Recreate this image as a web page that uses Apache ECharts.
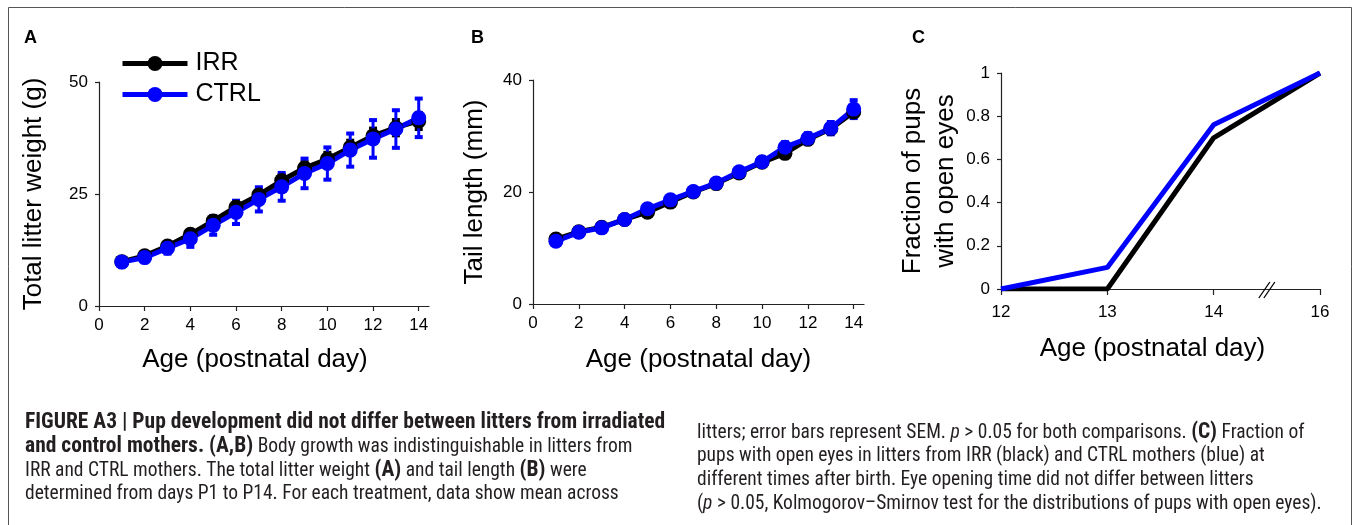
<!DOCTYPE html>
<html>
<head>
<meta charset="utf-8">
<script src="https://cdn.jsdelivr.net/npm/echarts@6/dist/echarts.min.js"></script>
<style>
html,body{margin:0;padding:0;background:#fff;}
#chart{width:1356px;height:525px;}
</style>
</head>
<body>
<div id="chart"></div>
<script>
// ---------- data ----------
const days = [1, 2, 3, 4, 5, 6, 7, 8, 9, 10, 11, 12, 13, 14];
const weightIRR = [9.9, 11.2, 13.4, 16.0, 19.0, 22.1, 24.8, 28.0, 30.8, 32.8, 35.4, 38.0, 39.8, 41.3];
const weightIRRErr = [0.3, 0.4, 0.6, 0.8, 0.9, 1.0, 1.1, 1.2, 1.3, 1.4, 1.5, 1.6, 1.7, 1.8];
const weightCTRL = [9.8, 10.8, 12.9, 15.0, 18.0, 20.9, 23.8, 26.6, 29.6, 31.8, 34.8, 37.3, 39.5, 42.0];
const weightCTRLErr = [0.4, 0.6, 1.2, 1.8, 2.1, 2.6, 2.7, 3.1, 3.3, 3.6, 3.7, 4.2, 4.2, 4.3];
const tailIRR = [11.6, 12.9, 13.7, 15.1, 16.4, 18.2, 20.0, 21.5, 23.4, 25.3, 26.9, 29.4, 31.3, 34.3];
const tailIRRErr = [0.2, 0.2, 0.2, 0.3, 0.3, 0.3, 0.3, 0.4, 0.4, 0.4, 0.5, 0.5, 0.6, 0.8];
const tailCTRL = [11.2, 12.8, 13.6, 15.1, 17.0, 18.6, 20.1, 21.6, 23.6, 25.4, 28.0, 29.6, 31.4, 34.8];
const tailCTRLErr = [0.3, 0.3, 0.4, 0.4, 0.5, 0.5, 0.5, 0.5, 0.6, 0.6, 0.9, 0.9, 1.1, 1.6];
const eyeDayLabels = ['12', '13', '14', '16'];
const eyeIRR = [0, 0, 0.70, 1];
const eyeCTRL = [0, 0.10, 0.76, 1];
const eyeBreakAt = [2.5];
const dayTicks = [0, 2, 4, 6, 8, 10, 12, 14];

const captionLeft = [
  '{b|FIGURE A3 | Pup development did not differ between litters from irradiated}',
  '{b|and control mothers. (A,B)} Body growth was indistinguishable in litters from',
  'IRR and CTRL mothers. The total litter weight {b|(A)} and tail length {b|(B)} were',
  'determined from days P1 to P14. For each treatment, data show mean across'
];
const captionRight = [
  'litters; error bars represent SEM. {i|p} > 0.05 for both comparisons. {b|(C)} Fraction of',
  'pups with open eyes in litters from IRR (black) and CTRL mothers (blue) at',
  'different times after birth. Eye opening time did not differ between litters',
  '({i|p} > 0.05, Kolmogorov\u2013Smirnov test for the distributions of pups with open eyes).'
];

// ---------- styling ----------
const FONT = '"Liberation Sans", Arial, sans-serif';
const CAPFONT = '"Liberation Sans Narrow", "Arial Narrow", "Roboto Condensed", "Liberation Sans", sans-serif';
const BLACK = '#000000';
const BLUE = '#0000ff';
const AXIS = '#222222';

function pairs(xs, ys) { return xs.map((x, i) => [x, ys[i]]); }
function triples(xs, ys, es) { return xs.map((x, i) => [x, ys[i], es[i]]); }

function errSeries(gi, color, xs, ys, es) {
  return {
    type: 'custom', xAxisIndex: gi, yAxisIndex: gi, silent: true,
    data: triples(xs, ys, es),
    encode: { x: 0, y: 1 },
    renderItem: function (params, api) {
      const x = api.value(0), y = api.value(1), e = api.value(2);
      const t = api.coord([x, y + e]);
      const b = api.coord([x, y - e]);
      const hw = 4;
      return {
        type: 'group',
        children: [
          { type: 'line', shape: { x1: t[0], y1: t[1], x2: b[0], y2: b[1] }, style: { stroke: color, lineWidth: 3 } },
          { type: 'line', shape: { x1: t[0] - hw, y1: t[1], x2: t[0] + hw, y2: t[1] }, style: { stroke: color, lineWidth: 4 } },
          { type: 'line', shape: { x1: b[0] - hw, y1: b[1], x2: b[0] + hw, y2: b[1] }, style: { stroke: color, lineWidth: 4 } }
        ]
      };
    }
  };
}

function lineSeries(gi, name, color, data, withSymbol) {
  return {
    type: 'line', name: name, xAxisIndex: gi, yAxisIndex: gi,
    data: data,
    symbol: withSymbol ? 'circle' : 'none',
    symbolSize: 15,
    showSymbol: withSymbol,
    itemStyle: { color: color },
    lineStyle: { color: color, width: 5 },
    emphasis: { disabled: true }
  };
}

function valueXAxis(gi, max, name, nameGap, namePad) {
  return {
    type: 'value', gridIndex: gi, min: 0, max: max, interval: 2,
    name: name, nameLocation: 'middle', nameGap: nameGap,
    nameTextStyle: { fontSize: 26, color: '#000', fontFamily: FONT, padding: namePad },
    axisLine: { show: true, lineStyle: { color: AXIS, width: 1.2 } },
    axisTick: { show: true, length: 5, lineStyle: { color: AXIS, width: 1.2 }, customValues: dayTicks },
    axisLabel: { fontSize: 17, color: '#000', fontFamily: FONT, margin: 11, customValues: dayTicks },
    splitLine: { show: false }
  };
}

function valueYAxis(gi, max, interval, name, nameGap) {
  return {
    type: 'value', gridIndex: gi, min: 0, max: max, interval: interval,
    name: name, nameLocation: 'middle', nameGap: nameGap, nameRotate: 90,
    nameTextStyle: { fontSize: 26, color: '#000', fontFamily: FONT, lineHeight: 33 },
    axisLine: { show: true, lineStyle: { color: AXIS, width: 1.2 } },
    axisTick: { show: true, length: 4, lineStyle: { color: AXIS, width: 1.2 } },
    axisLabel: { fontSize: 17, color: '#000', fontFamily: FONT, margin: 11 },
    splitLine: { show: false }
  };
}

const eyeIdx = eyeDayLabels.map((_, i) => i);

const breakSeries = {
  type: 'custom', xAxisIndex: 2, yAxisIndex: 2, silent: true, z: 5,
  data: eyeBreakAt.map(x => [x, 0]),
  encode: { x: 0, y: 1 },
  renderItem: function (params, api) {
    const p = api.coord([api.value(0), api.value(1)]);
    const mk = (dx) => ({ type: 'line', shape: { x1: p[0] + dx - 6, y1: p[1] + 9, x2: p[0] + dx + 5, y2: p[1] - 7 }, style: { stroke: '#000', lineWidth: 1.3 } });
    return { type: 'group', children: [mk(-2), mk(3)] };
  }
};

const captionGraphics = [];
function captionLines(lines, x, y0, step) {
  lines.forEach((t, i) => {
    captionGraphics.push({
      type: 'text', left: x, top: y0 + i * step,
      style: {
        text: t, fill: '#231f20', font: '19.5px ' + CAPFONT,
        rich: {
          b: { fontWeight: 'bold', fontSize: 21.5, fontFamily: CAPFONT, fill: '#231f20' },
          i: { fontStyle: 'italic', fontSize: 19.5, fontFamily: CAPFONT, fill: '#231f20' }
        }
      }
    });
  });
}
captionLines(captionLeft, 25, 412, 24);
captionLines(captionRight, 697, 422, 24);

const chart = echarts.init(document.getElementById('chart'), null, { renderer: 'canvas' });
chart.setOption({
  animation: false,
  backgroundColor: '#ffffff',
  textStyle: { fontFamily: FONT },
  grid: [
    { left: 99, right: 927, top: 82, bottom: 219 },
    { left: 533, right: 492, top: 80, bottom: 221 },
    { left: 1001, right: 36, top: 73, bottom: 236 }
  ],
  legend: {
    data: ['IRR', 'CTRL'], orient: 'vertical', left: 120, top: 51,
    itemWidth: 65, itemHeight: 19, itemGap: 6, padding: 0,
    lineStyle: { width: 5 },
    textStyle: { fontSize: 25, color: '#000', fontFamily: FONT, padding: [0, 0, 0, 3] },
    selectedMode: false
  },
  xAxis: [
    valueXAxis(0, 14.45, 'Age (postnatal day)', 41, [0, 18, 0, 0]),
    valueXAxis(1, 14.45, 'Age (postnatal day)', 43, 0),
    {
      type: 'value', gridIndex: 2, min: 0, max: 3, interval: 1,
      name: 'Age (postnatal day)', nameLocation: 'middle', nameGap: 47,
      nameTextStyle: { fontSize: 26, color: '#000', fontFamily: FONT, padding: [0, 16, 0, 0] },
      axisLine: { show: true, lineStyle: { color: AXIS, width: 1.2 } },
      axisTick: { show: true, length: 6, lineStyle: { color: AXIS, width: 1.2 } },
      axisLabel: { fontSize: 17, color: '#000', fontFamily: FONT, margin: 15, formatter: v => eyeDayLabels[v] },
      splitLine: { show: false }
    }
  ],
  yAxis: [
    valueYAxis(0, 50, 25, 'Total litter weight (g)', 49),
    valueYAxis(1, 40, 20, 'Tail length (mm)', 42),
    valueYAxis(2, 1, 0.2, 'Fraction of pups\nwith open eyes', 36)
  ],
  series: [
    errSeries(0, BLACK, days, weightIRR, weightIRRErr),
    lineSeries(0, 'IRR', BLACK, pairs(days, weightIRR), true),
    errSeries(0, BLUE, days, weightCTRL, weightCTRLErr),
    lineSeries(0, 'CTRL', BLUE, pairs(days, weightCTRL), true),
    errSeries(1, BLACK, days, tailIRR, tailIRRErr),
    lineSeries(1, 'IRR', BLACK, pairs(days, tailIRR), true),
    errSeries(1, BLUE, days, tailCTRL, tailCTRLErr),
    lineSeries(1, 'CTRL', BLUE, pairs(days, tailCTRL), true),
    lineSeries(2, 'IRR', BLACK, pairs(eyeIdx, eyeIRR), false),
    lineSeries(2, 'CTRL', BLUE, pairs(eyeIdx, eyeCTRL), false),
    breakSeries
  ],
  graphic: [
    { type: 'rect', shape: { x: 8.5, y: 7.5, width: 1343, height: 540 }, style: { fill: 'none', stroke: '#555', lineWidth: 1 }, silent: true },
    { type: 'text', left: 24, top: 29, style: { text: 'A', font: 'bold 18px ' + FONT, fill: '#000' } },
    { type: 'text', left: 471, top: 29, style: { text: 'B', font: 'bold 18px ' + FONT, fill: '#000' } },
    { type: 'text', left: 912, top: 29, style: { text: 'C', font: 'bold 18px ' + FONT, fill: '#000' } }
  ].concat(captionGraphics)
});
</script>
</body>
</html>
